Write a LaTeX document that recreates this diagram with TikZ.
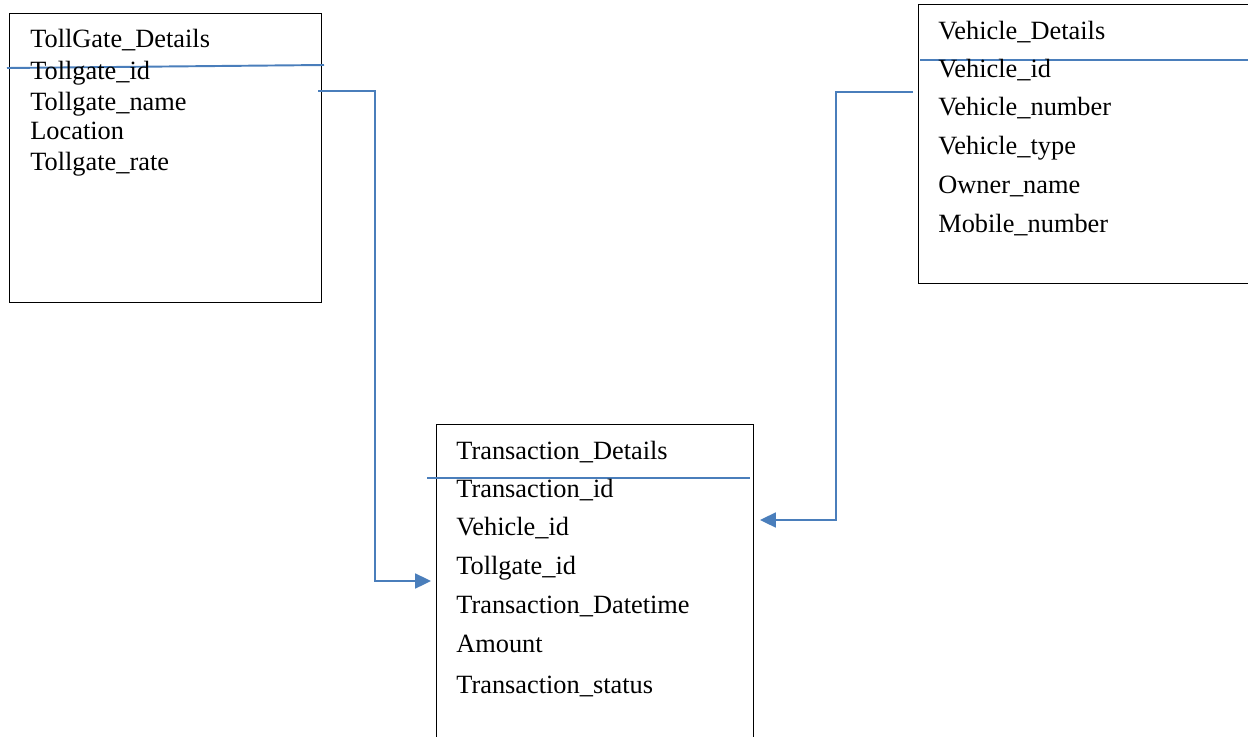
\documentclass[tikz,border=0pt]{standalone}
\usepackage{fontspec}
\setmainfont{Liberation Serif}
\usetikzlibrary{arrows.meta}
\definecolor{linkblue}{RGB}{74,126,187}
\tikzset{
	field/.style = {anchor=base west, inner sep=0pt, font=\fontsize{15}{18}\selectfont},
	tablebox/.style = {draw=black, line width=0.6pt, anchor=north west, inner sep=0pt},
	divider/.style = {draw=linkblue, line width=1.1pt},
	link/.style = {draw=linkblue, line width=1.1pt, -{Triangle[length=9pt,width=8.5pt]}}
}
\begin{document}
\begin{tikzpicture}[x=0.02cm, y=-0.02cm]
		\useasboundingbox ( 0, 0 ) rectangle ( 1248, 737 );

		% таблица TollGate_Details
		\node [tablebox, minimum width=6.24cm, minimum height=5.78cm] (tollgate) at ( 9, 13 ) {};
		\draw [divider] ( 7, 68 ) -- ( 324, 65 );
		\node [field] (tg-title) at ( 30, 48 ) {TollGate\_Details};
		\node [field] (tg-id) at ( 30, 79 ) {Tollgate\_id};
		\node [field] (tg-name) at ( 30, 110 ) {Tollgate\_name};
		\node [field] (tg-loc) at ( 30, 139 ) {Location};
		\node [field] (tg-rate) at ( 30, 170 ) {Tollgate\_rate};

		% таблица Vehicle_Details
		\node [tablebox, minimum width=6.72cm, minimum height=5.58cm] (vehicle) at ( 918, 4 ) {};
		\draw [divider] ( 920, 60 ) -- ( 1252, 60 );
		\node [field] (vh-title) at ( 938, 39 ) {Vehicle\_Details};
		\node [field] (vh-id) at ( 938, 77 ) {Vehicle\_id};
		\node [field] (vh-number) at ( 938, 115 ) {Vehicle\_number};
		\node [field] (vh-type) at ( 938, 154 ) {Vehicle\_type};
		\node [field] (vh-owner) at ( 938, 193 ) {Owner\_name};
		\node [field] (vh-mobile) at ( 938, 232 ) {Mobile\_number};

		% таблица Transaction_Details
		\node [tablebox, minimum width=6.34cm, minimum height=6.4cm] (transaction) at ( 436, 424 ) {};
		\draw [divider] ( 427, 478 ) -- ( 750, 478 );
		\node [field] (tr-title) at ( 456, 459 ) {Transaction\_Details};
		\node [field] (tr-id) at ( 456, 497 ) {Transaction\_id};
		\node [field] (tr-vehicle) at ( 456, 535 ) {Vehicle\_id};
		\node [field] (tr-tollgate) at ( 456, 574 ) {Tollgate\_id};
		\node [field] (tr-datetime) at ( 456, 613 ) {Transaction\_Datetime};
		\node [field] (tr-amount) at ( 456, 652 ) {Amount};
		\node [field] (tr-status) at ( 456, 693 ) {Transaction\_status};

		% связи
		\coordinate (tg-out) at ( 318, 91 );
		\coordinate (tr-in-tg) at ( 431, 581 );
		\coordinate (vh-out) at ( 913, 92 );
		\coordinate (tr-in-vh) at ( 760, 520 );
		\draw [link] (tg-out) -- ++( 57, 0 ) |- (tr-in-tg);
		\draw [link] (vh-out) -- ++( -77, 0 ) |- (tr-in-vh);
	\end{tikzpicture}
\end{document}
